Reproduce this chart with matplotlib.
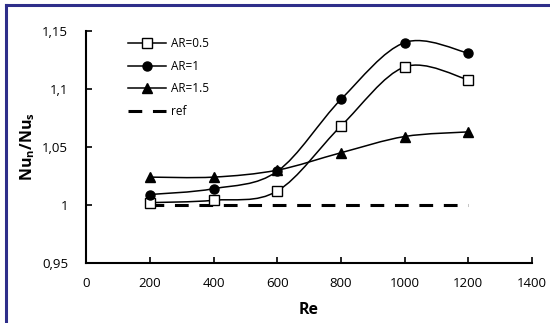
import matplotlib
matplotlib.use("Agg")
import matplotlib.pyplot as plt
from matplotlib.path import Path
from matplotlib.patches import PathPatch
from matplotlib.lines import Line2D

plt.rcParams["font.family"] = ["Open Sans", "DejaVu Sans"]

# data
re_values = [200, 400, 600, 800, 1000, 1200]
ar_05 = [1.002, 1.004, 1.012, 1.068, 1.119, 1.108]
ar_1 = [1.009, 1.014, 1.029, 1.091, 1.140, 1.131]
ar_15 = [1.024, 1.024, 1.030, 1.045, 1.059, 1.063]
ref = [1.0, 1.0, 1.0, 1.0, 1.0, 1.0]

x_ticks = [0, 200, 400, 600, 800, 1000, 1200, 1400]
y_ticks = [0.95, 1.0, 1.05, 1.1, 1.15]
y_labels = ["0,95", "1", "1,05", "1,1", "1,15"]


def smooth_path(xs, ys):
    """Excel-like smoothed line as cubic bezier segments through the points."""
    pts = list(zip(xs, ys))
    verts = [pts[0]]
    codes = [Path.MOVETO]
    n = len(pts)
    for i in range(n - 1):
        p0 = pts[i - 1] if i > 0 else pts[i]
        p1 = pts[i]
        p2 = pts[i + 1]
        p3 = pts[i + 2] if i + 2 < n else pts[i + 1]
        c1 = (p1[0] + (p2[0] - p0[0]) / 6, p1[1] + (p2[1] - p0[1]) / 6)
        c2 = (p2[0] - (p3[0] - p1[0]) / 6, p2[1] - (p3[1] - p1[1]) / 6)
        verts += [c1, c2, p2]
        codes += [Path.CURVE4] * 3
    return Path(verts, codes)


fig = plt.figure(figsize=(5.5, 3.23), dpi=100)
ax = fig.add_axes([0.157, 0.186, 0.81, 0.718])

series = [
    (ar_05, "s", "white", "AR=0.5"),
    (ar_1, "o", "black", "AR=1"),
    (ar_15, "^", "black", "AR=1.5"),
]
handles = []
for ys, marker, face, label in series:
    ax.add_patch(PathPatch(smooth_path(re_values, ys), facecolor="none",
                           edgecolor="black", lw=1.1, zorder=2))
    ax.plot(re_values, ys, linestyle="none", marker=marker, markersize=6.5,
            markerfacecolor=face, markeredgecolor="black", markeredgewidth=1.0, zorder=3)
    handles.append(Line2D([], [], color="black", lw=1.1, marker=marker, markersize=6.5,
                          markerfacecolor=face, markeredgecolor="black", label=label))

ax.plot(re_values, ref, color="black", lw=2.2, linestyle=(0, (4.5, 3.5)), zorder=1)
handles.append(Line2D([], [], color="black", lw=2.2, linestyle=(0, (4.5, 3.5)), label="ref"))

ax.set_xlim(0, 1400)
ax.set_ylim(0.95, 1.15)
ax.set_xticks(x_ticks)
ax.set_yticks(y_ticks)
ax.set_yticklabels(y_labels)
ax.tick_params(direction="in", length=4, width=1.2, labelsize=9.5, colors="black")
ax.tick_params(axis="x", pad=10)
ax.tick_params(axis="y", pad=13)
for side in ["top", "right"]:
    ax.spines[side].set_visible(False)
for side in ["left", "bottom"]:
    ax.spines[side].set_linewidth(1.5)

ax.set_xlabel("Re", fontsize=11.5, fontweight="bold", labelpad=9)
ax.set_ylabel(r"Nu$_\mathregular{n}$/Nu$_\mathregular{s}$", fontsize=11.5, fontweight="bold", labelpad=4)

ax.legend(handles=handles, loc="upper left", bbox_to_anchor=(0.07, 1.02), frameon=False,
          fontsize=8.5, handlelength=3.2, labelspacing=0.82, handletextpad=0.4)

# partial frame around the chart (top and left only visible)
fig.add_artist(Line2D([0.011, 0.011], [0.0, 0.985], color="#2e2e8a", lw=2.2, transform=fig.transFigure))
fig.add_artist(Line2D([0.011, 1.0], [0.985, 0.985], color="#2e2e8a", lw=2.2, transform=fig.transFigure))

fig.savefig("out.png", dpi=100, facecolor="white")
